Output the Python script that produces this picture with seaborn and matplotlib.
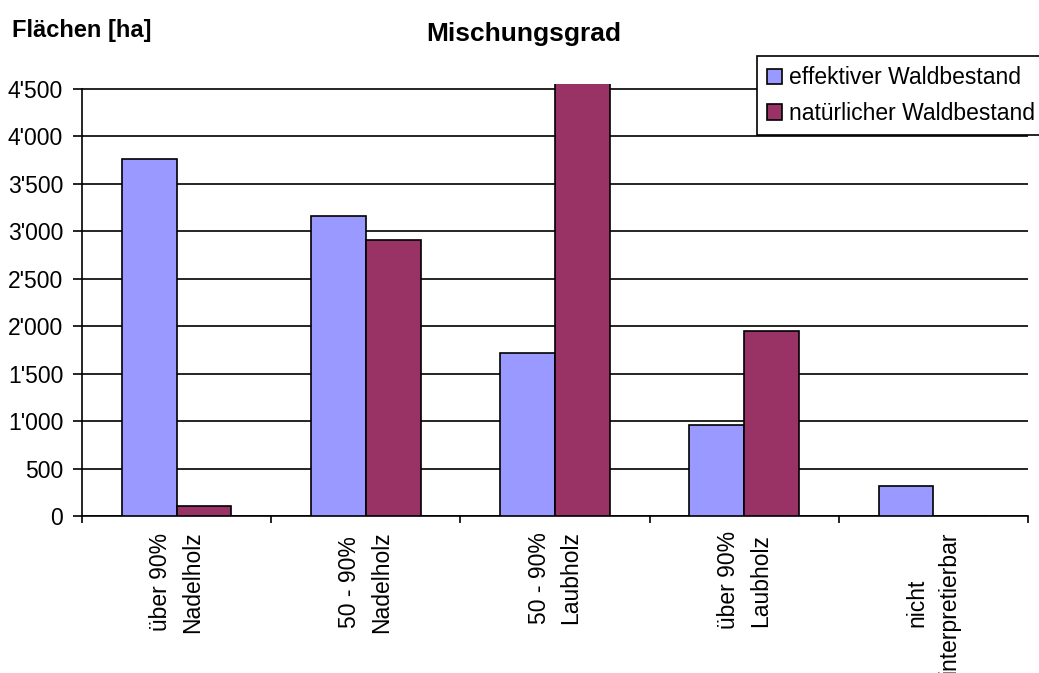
import numpy as np
import pandas as pd
import seaborn as sns
import matplotlib.pyplot as plt
from matplotlib.ticker import FuncFormatter, FixedLocator

# Daten
kategorien = ["über 90%\nNadelholz", "50 - 90%\nNadelholz", "50 - 90%\nLaubholz",
              "über 90%\nLaubholz", "nicht\ninterpretierbar"]
effektiv = [3760, 3160, 1720, 960, 320]
natuerlich = [110, 2910, 4600, 1950, 0]
serien = ["effektiver Waldbestand", "natürlicher Waldbestand"]
farben = ["#9999FF", "#993366"]

df = pd.DataFrame({
    "kategorie": kategorien * 2,
    "flaeche": effektiv + natuerlich,
    "serie": [serien[0]] * len(kategorien) + [serien[1]] * len(kategorien),
})

sns.set_style("white")
plt.rcParams['font.family'] = ['Liberation Sans', 'DejaVu Sans']
plt.rcParams['font.size'] = 16.5
plt.rcParams['text.color'] = 'black'
plt.rcParams['xtick.color'] = 'black'
plt.rcParams['ytick.color'] = 'black'
plt.rcParams['xtick.labelcolor'] = 'black'
plt.rcParams['ytick.labelcolor'] = 'black'

fig = plt.figure(figsize=(10.39, 6.73), dpi=100)
ax = fig.add_axes([82 / 1039, 1 - 516 / 673, (1028 - 82) / 1039, (516 - 84) / 673])

sns.barplot(data=df, x="kategorie", y="flaeche", hue="serie", palette=farben,
            width=0.58, edgecolor="black", linewidth=1.2, saturation=1,
            ax=ax, zorder=3, legend=True)

ax.set_xlim(-0.5, 4.5)
ax.set_ylim(0, 4553)
ax.set_yticks(np.arange(0, 4501, 500))
ax.yaxis.set_major_formatter(FuncFormatter(lambda v, p: f"{int(v):,}".replace(",", "'")))
ax.grid(axis="y", color="black", linewidth=1.2, zorder=0)
ax.set_axisbelow(True)

for s in ["top", "right"]:
    ax.spines[s].set_visible(False)
for s in ["left", "bottom"]:
    ax.spines[s].set_color("black")
    ax.spines[s].set_linewidth(1.2)
ax.spines["left"].set_bounds(0, 4500)

ax.set_xlabel("")
ax.set_ylabel("")
ax.tick_params(axis="y", length=6.5, width=1.2, color="black", pad=7, left=True,
               labelsize=16.5)
ax.tick_params(axis="x", which="major", length=0, pad=11, labelsize=16.5)
ax.xaxis.set_minor_locator(FixedLocator(np.arange(-0.5, 4.6, 1)))
ax.tick_params(axis="x", which="minor", length=5, width=1.2, color="black", bottom=True)
for lbl in ax.get_xticklabels():
    lbl.set_rotation(90)
    lbl.set_ha("center")
    lbl.set_va("top")
    lbl.set_multialignment("center")
    lbl.set_linespacing(1.5)

handles, labels = ax.get_legend_handles_labels()
ax.legend_.remove()
leg = fig.legend(handles, labels, loc="upper left", bbox_to_anchor=(757 / 1039, 1 - 56 / 673),
                 frameon=True, fancybox=False, edgecolor="black", framealpha=1,
                 handlelength=0.65, handleheight=0.65, handletextpad=0.3,
                 labelspacing=0.55, borderpad=0.45, borderaxespad=0, fontsize=16.5)
leg.get_frame().set_linewidth(1.2)

fig.text(0.504, 1 - 34 / 673, "Mischungsgrad", ha="center", va="center",
         fontsize=19, fontweight="bold")
fig.text(12 / 1039, 1 - 30 / 673, "Flächen [ha]", ha="left", va="center",
         fontsize=17, fontweight="bold")

fig.savefig("out.png", dpi=100)
